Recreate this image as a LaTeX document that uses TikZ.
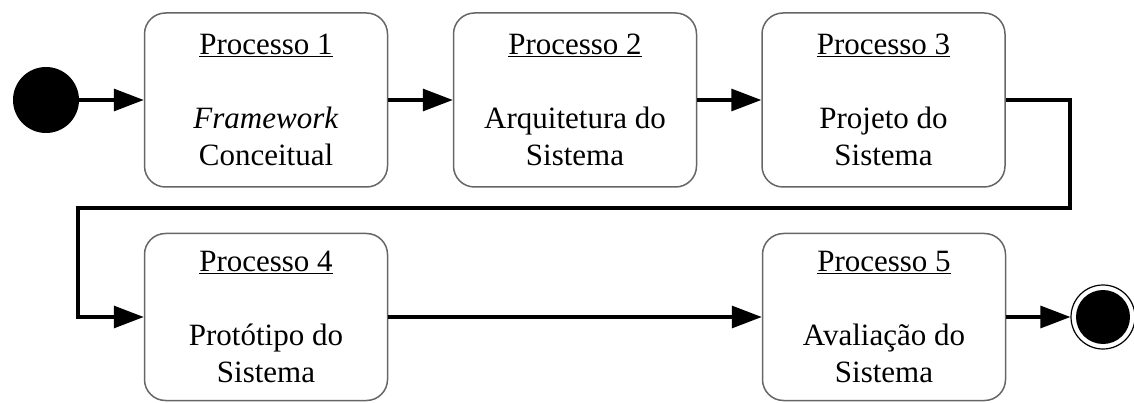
\documentclass[tikz,border=0pt]{standalone}
\usepackage{fontspec}
\setmainfont{Liberation Serif}
\usetikzlibrary{arrows.meta}
\begin{document}
\begin{tikzpicture}[x=1pt,y=-1pt,
  proc/.style={draw=black!60, line width=1.5pt, rounded corners=21pt,
    minimum width=243pt, align=center, inner sep=0pt,
    font=\fontsize{31}{37}\selectfont},
  toprow/.style={proc, minimum height=174pt},
  botrow/.style={proc, minimum height=167pt},
  conn/.style={line width=3.2pt, -{Triangle[length=30pt,width=22pt]}},
]
\useasboundingbox (0,0) rectangle (1134,403);
\node[circle, fill=black, minimum size=66pt, inner sep=0pt] (start) at (46,100) {};
\node[toprow] (b1) at (266,100) {\underline{Processo 1}\\[37pt]\textit{Framework}\\Conceitual};
\node[toprow] (b2) at (575,100) {\underline{Processo 2}\\[37pt]Arquitetura do\\Sistema};
\node[toprow] (b3) at (883.5,100) {\underline{Processo 3}\\[37pt]Projeto do\\Sistema};
\node[botrow] (b4) at (266,317) {\underline{Processo 4}\\[37pt]Prot\'otipo do\\Sistema};
\node[botrow] (b5) at (884,317) {\underline{Processo 5}\\[37pt]Avalia\c{c}\~ao do\\Sistema};
\node[circle, draw=black, line width=1.2pt, minimum size=64pt, inner sep=0pt] (end) at (1103,317) {};
\node[circle, fill=black, minimum size=54pt, inner sep=0pt] (endin) at (end.center) {};
\coordinate (c1) at (1070,208);
\coordinate (c2) at (78,208);
\draw[conn] (start) -- (b1);
\draw[conn] (b1) -- (b2);
\draw[conn] (b2) -- (b3);
\draw[conn] (b3.east) -| (c1) -- (c2) |- (b4.west);
\draw[conn] (b4) -- (b5);
\draw[conn] (b5) -- (end);
\end{tikzpicture}
\end{document}
